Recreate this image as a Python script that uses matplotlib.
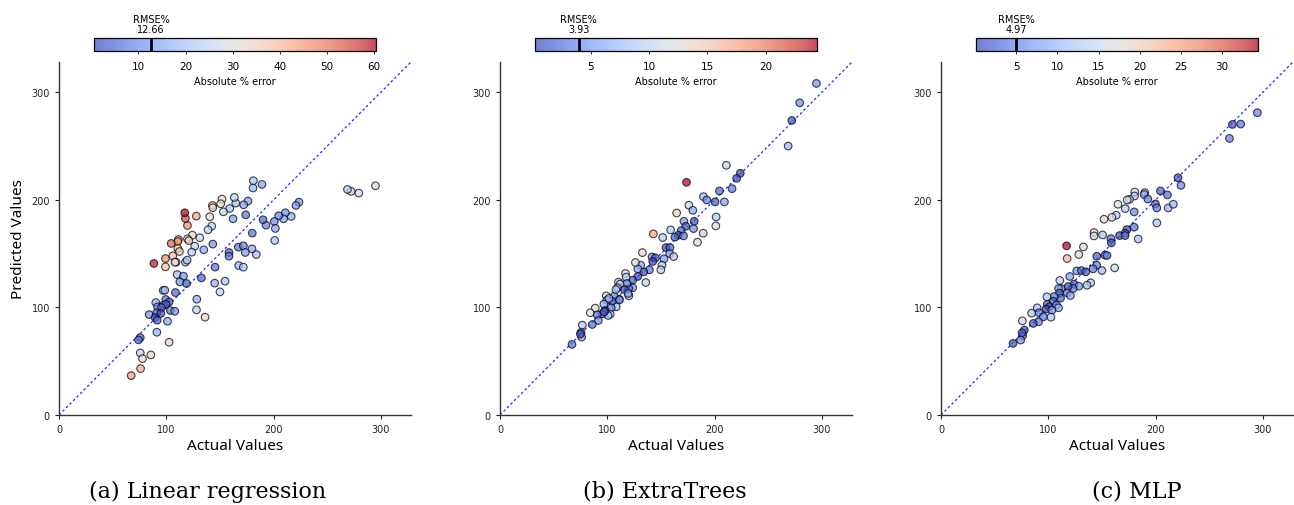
import numpy as np
import matplotlib
matplotlib.use("Agg")
import matplotlib.pyplot as plt
from matplotlib.colors import Normalize

# ---------------- data ----------------
actual_lr = [294.9, 279.4, 272.2, 268.8, 181.1, 189.1, 180.8, 223.6, 220.8, 216.4,
             210.9, 209.3, 204.7, 200.6, 201.6, 201.0, 192.9, 190.1, 176.1, 172.1,
             164.7, 163.4, 159.1, 153.2, 151.9, 150.7, 143.0, 143.3, 140.5, 142.3,
             138.9, 131.2, 128.0, 124.3, 126.5, 123.7, 119.7, 121.0, 119.7, 117.8,
             117.2, 111.3, 110.7, 110.7, 112.2, 104.5, 106.0, 99.2, 99.2, 88.4,
             109.1, 117.8, 119.4, 134.9, 143.3, 162.2, 174.0, 180.1, 167.1, 171.8,
             179.8, 173.6, 183.9, 158.4, 158.4, 167.4, 171.8, 145.4, 132.7, 154.7,
             145.1, 150.0, 128.4, 128.1, 136.1, 110.1, 116.0, 112.6, 118.8, 108.5,
             97.1, 98.6, 99.5, 102.6, 90.2, 91.8, 97.1, 99.5, 95.5, 103.8,
             107.9, 84.0, 91.1, 89.6, 91.5, 94.9, 101.1, 91.2, 102.6, 75.7,
             74.1, 75.7, 77.8, 85.6, 76.0, 67.3, 108.0]
pred_lr = [213.0, 206.2, 207.8, 209.6, 217.7, 214.3, 210.9, 197.8, 194.7, 184.5,
           187.9, 182.3, 185.1, 179.8, 173.3, 162.2, 176.4, 181.4, 198.8, 195.3,
           196.9, 202.2, 191.9, 188.8, 200.6, 196.3, 194.7, 192.6, 184.2, 175.5,
           172.1, 164.7, 184.8, 167.1, 156.9, 151.3, 163.7, 162.0, 176.1, 182.6,
           187.9, 163.1, 161.2, 154.7, 151.9, 159.4, 147.9, 145.4, 137.7, 140.8,
           142.0, 142.0, 143.9, 153.5, 158.8, 182.3, 186.0, 169.0, 156.0, 157.2,
           154.4, 151.0, 149.1, 151.0, 147.6, 138.9, 137.4, 137.4, 127.4, 124.3,
           122.5, 114.4, 107.6, 97.7, 90.9, 130.5, 129.0, 123.7, 122.2, 113.8,
           115.7, 116.0, 107.3, 105.1, 104.5, 100.5, 102.0, 102.9, 99.8, 97.1,
           96.4, 93.3, 95.2, 90.5, 88.1, 94.3, 87.1, 76.9, 67.6, 71.9,
           69.8, 57.7, 52.4, 55.8, 43.1, 36.6, 142.0]

actual_et = [294.8, 279.3, 271.9, 268.5, 210.9, 223.9, 220.5, 216.2, 173.8, 204.5,
             189.6, 192.7, 200.4, 209.1, 176.0, 179.7, 201.4, 201.1, 189.3, 184.0,
             180.3, 181.0, 171.4, 173.2, 168.9, 166.1, 171.0, 163.0, 164.6, 159.0,
             151.6, 154.7, 158.4, 158.1, 161.8, 152.8, 150.9, 149.9, 142.9, 132.7,
             141.7, 144.8, 142.3, 139.2, 133.9, 135.8, 128.4, 131.1, 128.4, 126.2,
             123.7, 123.7, 120.0, 116.9, 117.5, 118.2, 110.4, 111.9, 109.5, 116.0,
             120.0, 119.4, 111.0, 106.4, 108.3, 104.5, 99.0, 99.6, 96.8, 103.6,
             102.7, 100.8, 98.0, 95.3, 88.8, 84.1, 90.6, 91.6, 86.0, 76.7,
             75.5, 76.1, 74.9, 67.1, 111.4, 108.0, 101.5, 97.1]
pred_et = [308.1, 290.1, 273.7, 249.9, 232.0, 224.6, 219.9, 210.3, 216.2, 208.2,
           202.9, 199.8, 198.0, 198.0, 194.9, 190.2, 184.0, 175.7, 168.9, 160.5,
           173.2, 180.0, 180.0, 175.4, 171.4, 167.0, 166.4, 165.2, 187.7, 172.0,
           164.9, 155.6, 155.6, 150.0, 147.2, 145.1, 139.2, 134.9, 168.3, 150.9,
           146.9, 146.0, 142.6, 134.9, 133.0, 123.1, 128.7, 139.2, 135.8, 141.7,
           125.3, 118.2, 117.5, 131.5, 128.1, 122.2, 123.4, 121.6, 118.2, 116.6,
           110.7, 112.9, 107.6, 110.4, 100.5, 105.8, 110.7, 106.7, 103.0, 99.6,
           93.7, 92.5, 97.1, 94.0, 99.3, 95.0, 93.1, 87.8, 84.1, 83.5,
           76.7, 72.4, 75.2, 65.6, 107.0, 116.6, 108.3, 95.9]

actual_mlp = [294.8, 279.3, 271.6, 268.8, 220.8, 223.6, 204.5, 211.0, 189.9, 189.3,
              192.7, 180.6, 180.3, 175.7, 173.5, 199.8, 201.1, 211.7, 216.5, 201.1,
              183.7, 180.0, 171.7, 164.9, 163.3, 159.3, 151.9, 180.0, 173.2, 171.5,
              166.4, 171.5, 158.4, 158.7, 150.6, 142.6, 142.6, 117.0, 132.7, 117.5,
              128.4, 145.1, 152.8, 154.7, 145.1, 141.7, 150.0, 161.8, 139.5, 136.1,
              126.5, 130.8, 134.9, 120.0, 110.7, 124.0, 128.4, 123.1, 118.5, 112.0,
              109.5, 110.4, 117.5, 120.6, 111.4, 105.5, 104.5, 98.7, 99.0, 100.8,
              107.6, 109.5, 98.0, 103.3, 102.4, 89.7, 91.2, 84.4, 95.3, 90.9,
              86.0, 75.8, 77.6, 76.1, 74.2, 67.1, 75.5]
pred_mlp = [280.9, 270.3, 270.0, 257.0, 220.5, 213.4, 208.2, 204.5, 206.6, 204.8,
            200.7, 207.2, 203.5, 200.4, 199.8, 196.1, 192.4, 192.4, 195.8, 178.5,
            163.6, 188.7, 191.8, 195.8, 185.6, 183.7, 181.9, 174.5, 172.3, 168.9,
            166.7, 166.7, 163.9, 159.9, 167.3, 169.5, 166.4, 157.2, 156.2, 145.4,
            149.1, 147.5, 148.5, 148.2, 139.2, 135.8, 134.2, 136.7, 122.8, 120.6,
            133.9, 134.2, 133.0, 128.7, 125.0, 121.6, 119.7, 117.5, 119.4, 117.5,
            117.5, 113.2, 113.5, 111.0, 108.6, 110.1, 105.8, 109.8, 102.7, 100.5,
            102.1, 99.6, 98.4, 97.4, 90.9, 99.6, 95.0, 94.6, 91.2, 86.6,
            85.1, 87.5, 78.9, 73.6, 69.6, 66.5, 76.4]

model_titles = ["(a) Linear regression", "(b) ExtraTrees", "(c) MLP"]
rmse_pct = [12.66, 3.93, 4.97]
x_ticks = [0, 100, 200, 300]
y_ticks = [0, 100, 200, 300]

panels = [(actual_lr, pred_lr), (actual_et, pred_et), (actual_mlp, pred_mlp)]

# ---------------- figure ----------------
W, H = 1294, 506
fig = plt.figure(figsize=(W / 100, H / 100), dpi=100)

ax_lefts = [59, 500, 941]
title_centers = [208, 665, 1137]
ax_w, ax_top, ax_bot = 352, 63, 416
cb_top, cb_bot = 39, 52
lim = 328

label_font = ["Noto Sans", "DejaVu Sans"]

for i, (act, pred) in enumerate(panels):
    act = np.asarray(act)
    pred = np.asarray(pred)
    err = np.abs(pred - act) / act * 100.0

    l = ax_lefts[i]
    ax = fig.add_axes([l / W, 1 - ax_bot / H, ax_w / W, (ax_bot - ax_top) / H])
    norm = Normalize(vmin=err.min(), vmax=err.max())
    sc = ax.scatter(act, pred, c=err, cmap="coolwarm", norm=norm, s=30,
                    edgecolors="black", linewidths=0.8, alpha=0.72, zorder=3)
    ax.plot([0, lim], [0, lim], color="blue", lw=0.9, ls=(0, (2, 2)), alpha=0.85, zorder=2)
    ax.set_xlim(0, lim)
    ax.set_ylim(0, lim)
    ax.set_xticks(x_ticks)
    ax.set_yticks(y_ticks)
    ax.tick_params(labelsize=7, length=3, width=0.8, colors="#222222")
    for s in ["top", "right"]:
        ax.spines[s].set_visible(False)
    for s in ["left", "bottom"]:
        ax.spines[s].set_color("#333333")
        ax.spines[s].set_linewidth(1.0)
    ax.set_xlabel("Actual Values", fontsize=11, family=label_font, labelpad=3)
    if i == 0:
        ax.set_ylabel("Predicted Values", fontsize=11, family=label_font, labelpad=4)

    # colorbar
    cw = ax_w * 0.8
    cl = l + (ax_w - cw) / 2
    cax = fig.add_axes([cl / W, 1 - cb_bot / H, cw / W, (cb_bot - cb_top) / H])
    cb = fig.colorbar(sc, cax=cax, orientation="horizontal")
    cb.outline.set_linewidth(0.9)
    cb.outline.set_edgecolor("black")
    cax.tick_params(labelsize=7.5, length=2, width=0.6, pad=5)
    cb.set_label("Absolute % error", fontsize=7, labelpad=4)
    cax.axvline(rmse_pct[i], color="black", lw=2)
    cax.text(rmse_pct[i], 1.3, "RMSE%\n" + f"{rmse_pct[i]:.2f}",
             transform=cax.get_xaxis_transform(),
             ha="center", va="bottom", fontsize=7, linespacing=1.0)

    # subtitle
    fig.text(title_centers[i] / W, 1 - 498 / H, model_titles[i], ha="center", va="baseline",
             fontsize=16, family="DejaVu Serif")

fig.savefig("out.png", dpi=100)
